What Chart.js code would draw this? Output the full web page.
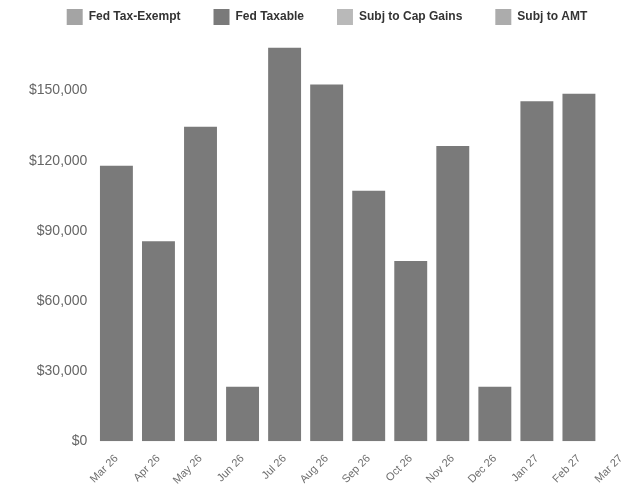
<!DOCTYPE html>
<html lang="en">
  <head>
    <title>Monthly Income</title>
    <script src="https://cdn.jsdelivr.net/npm/chart.js@4.4.0/dist/chart.umd.min.js"></script>
    <style>
      html, body { margin: 0; padding: 0; overflow: hidden; background: #fff; }
      #wrap { width: 645px; height: 493px; }
    </style>
  </head>
  <body>
    <div id="wrap">
      <canvas id="incomeChart"></canvas>
    </div>
    <script>
      // data
      const months = ["Mar 26", "Apr 26", "May 26", "Jun 26", "Jul 26", "Aug 26", "Sep 26",
                      "Oct 26", "Nov 26", "Dec 26", "Jan 27", "Feb 27", "Mar 27"];
      const fedTaxExempt = [];
      const fedTaxable = [117900, 85500, 134500, 23300, 168300, 152600, 107100,
                          77100, 126300, 23300, 145400, 148700, 0];
      const subjCapGains = [];
      const subjAmt = [];
      const yTicks = [0, 30000, 60000, 90000, 120000, 150000];

      const fmt = v => "$" + v.toLocaleString("en-US");

      // nudge the legend a bit left of the plot's centre
      const legendShift = {
        id: "legendShift",
        afterLayout(chart) {
          chart.legend.left -= 17;
        }
      };

      let ctx = document.getElementById("incomeChart").getContext("2d");
      let incomeChart = new Chart(ctx, {
        type: "bar",
        data: {
          labels: months,
          datasets: [
            { label: "Fed Tax-Exempt", data: fedTaxExempt, backgroundColor: "#a4a4a4" },
            { label: "Fed Taxable", data: fedTaxable, backgroundColor: "#7a7a7a" },
            { label: "Subj to Cap Gains", data: subjCapGains, backgroundColor: "#b9b9b9" },
            { label: "Subj to AMT", data: subjAmt, backgroundColor: "#acacac" }
          ]
        },
        plugins: [legendShift],
        options: {
          responsive: true,
          maintainAspectRatio: false,
          animation: false,
          // top is negative so the wide legend padding doesn't push the legend down
          layout: { padding: { left: 29, right: 3, top: -24, bottom: 3 } },
          datasets: {
            bar: { barPercentage: 0.9, categoryPercentage: 0.87 }
          },
          plugins: {
            tooltip: { enabled: false },
            legend: {
              position: "top",
              labels: {
                boxWidth: 16,
                boxHeight: 16,
                padding: 33,
                color: "#333",
                font: { family: "Liberation Sans, Arial", size: 12, weight: "bold" }
              }
            }
          },
          scales: {
            x: {
              stacked: true,
              grid: { display: false },
              border: { display: false },
              ticks: {
                minRotation: 45,
                maxRotation: 45,
                color: "#6e6e6e",
                font: { family: "Liberation Sans, Arial", size: 11 }
              }
            },
            y: {
              stacked: true,
              min: 0,
              max: 173800,
              grid: { display: false },
              border: { display: false },
              afterBuildTicks: axis => {
                axis.ticks = yTicks.map(v => ({ value: v }));
              },
              ticks: {
                padding: 0,
                color: "#666",
                font: { family: "Liberation Sans, Arial", size: 14 },
                callback: v => fmt(v)
              }
            }
          }
        }
      });
    </script>
  </body>
</html>
